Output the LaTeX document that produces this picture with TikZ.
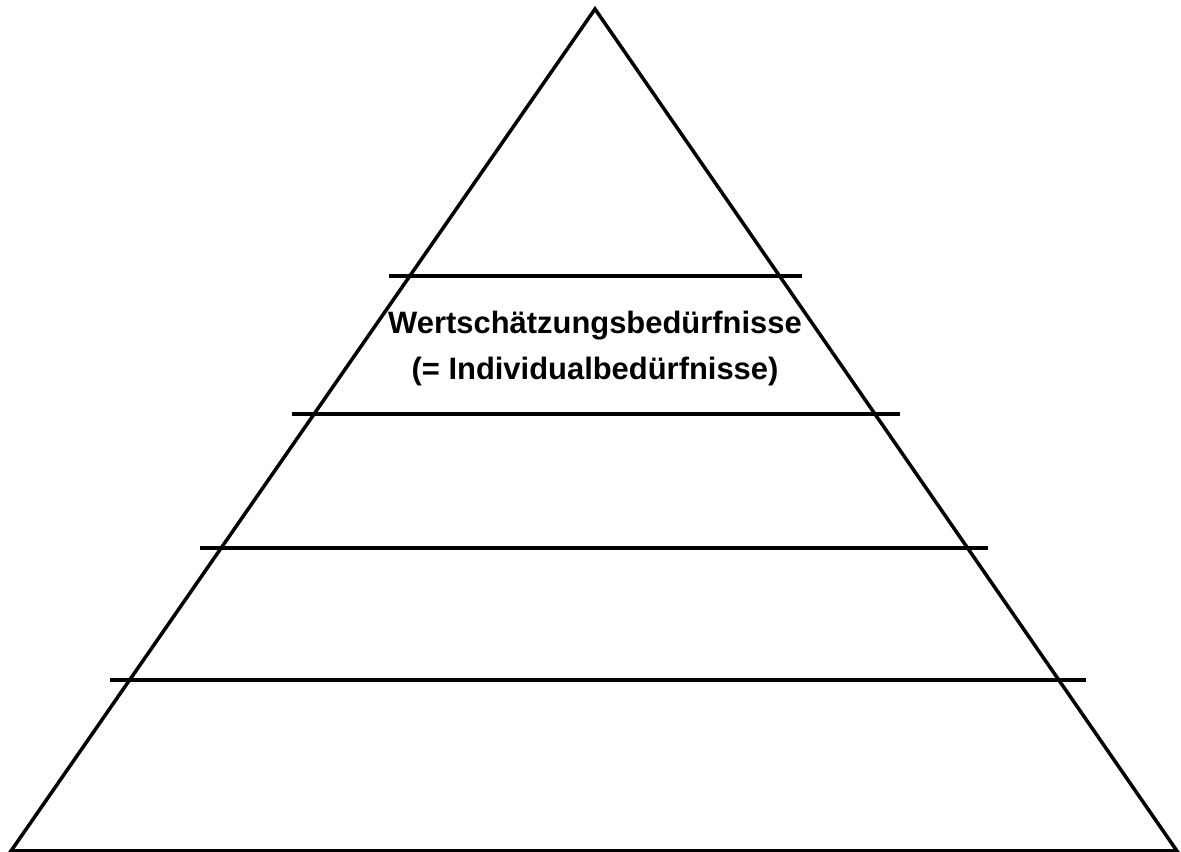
\documentclass[tikz,border=0pt]{standalone}
\usepackage{fontspec}
\setmainfont{Liberation Sans}
\usepackage{tikz}
\usetikzlibrary{positioning}

\tikzset{
  stufe/.style={line width=2pt,black},
  stufentext/.style={font=\fontsize{17.6}{21}\selectfont\bfseries,inner sep=0pt}
}

\begin{document}
\begin{tikzpicture}[x=0.02cm,y=-0.02cm]
        \useasboundingbox (0,0) rectangle (1181,852);
        % pyramid
        \draw[stufe,line join=miter] (11,851) -- (595,9) -- (1177,851) -- cycle;
        % levels
        \foreach \y/\l/\r in {276/389/802,414/292/900,548/200/988,680/110/1086} {
          \draw[stufe] (\l,\y) -- (\r,\y);
        }
        \node[stufentext] (wert) at (595,326) {Wertschätzungsbedürfnisse};
        \node[stufentext] (indiv) at (595,372) {(= Individualbedürfnisse)};
      \end{tikzpicture}
\end{document}
